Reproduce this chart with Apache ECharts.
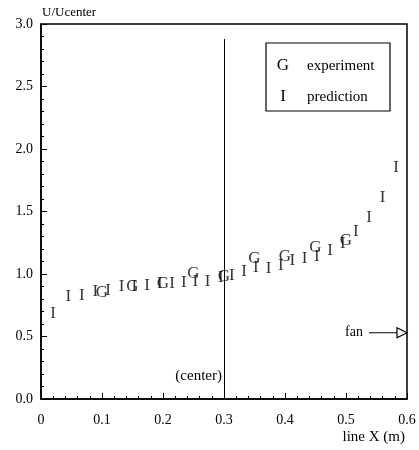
<!DOCTYPE html>
<html><head><meta charset="utf-8">
<script src="https://cdn.jsdelivr.net/npm/echarts@6/dist/echarts.min.js"></script>
<style>html,body{margin:0;padding:0;background:#fff}#c{width:419px;height:450px}</style>
</head><body><div id="c"></div>
<script>
const predX = [0.020,0.045,0.067,0.089,0.110,0.132,0.153,0.174,0.195,0.215,0.234,0.253,0.273,0.295,0.313,0.333,0.352,0.373,0.393,0.412,0.432,0.452,0.474,0.495,0.516,0.538,0.560,0.582];
const predY = [0.68,0.82,0.83,0.86,0.87,0.90,0.90,0.91,0.92,0.92,0.93,0.94,0.94,0.97,0.99,1.02,1.05,1.04,1.07,1.11,1.12,1.14,1.19,1.24,1.34,1.45,1.61,1.85];
const expX = [0.10,0.15,0.20,0.25,0.30,0.35,0.40,0.45,0.50];
const expY = [0.85,0.90,0.92,1.00,0.98,1.12,1.14,1.21,1.27];
const xTicks = ['0','0.1','0.2','0.3','0.4','0.5','0.6'];
const yTicks = ['0.0','0.5','1.0','1.5','2.0','2.5','3.0'];
const centerLine = {x:0.3, y0:0, y1:2.88};
const fanY = 0.53;

const SERIF = '"Liberation Serif","DejaVu Serif",serif';
const chart = echarts.init(document.getElementById('c'), null, {renderer:'canvas'});
function glyphSeries(name, xs, ys, ch, z){
  return {
    type:'scatter', name, z,
    data: xs.map((x,i)=>[x, ys[i]]),
    symbol:'circle', symbolSize:1,
    itemStyle:{color:'rgba(0,0,0,0)'},
    label:{show:true, position:'inside', formatter:ch, color:'#000',
      fontFamily:SERIF, fontSize:17, verticalAlign:'middle', align:'center'},
    emphasis:{disabled:true}, silent:true
  };
}
const axisLine = {show:true, lineStyle:{color:'#000', width:1.6}};
chart.setOption({
  animation:false,
  grid:{left:41, right:12, top:24, bottom:51, show:true, borderColor:'#000', borderWidth:1.5, backgroundColor:'transparent'},
  xAxis:{type:'value', min:0, max:0.6, interval:0.1,
    axisLine, splitLine:{show:false},
    axisTick:{show:true, inside:true, length:6, lineStyle:{color:'#000'}},
    minorTick:{show:true, splitNumber:5, length:3, lineStyle:{color:'#000'}},
    axisLabel:{margin:14, color:'#000', fontFamily:SERIF, fontSize:14,
      formatter:(v)=>xTicks[Math.round(v*10)]}
  },
  yAxis:{type:'value', min:0, max:3, interval:0.5,
    axisLine, splitLine:{show:false},
    axisTick:{show:true, inside:true, length:6, lineStyle:{color:'#000'}},
    minorTick:{show:true, splitNumber:5, length:3, lineStyle:{color:'#000'}},
    axisLabel:{margin:8, color:'#000', fontFamily:SERIF, fontSize:14,
      formatter:(v)=>yTicks[Math.round(v*2)]},
    name:'U/Ucenter', nameLocation:'end', nameGap:5,
    nameTextStyle:{align:'left', color:'#000', fontFamily:SERIF, fontSize:13, padding:[0,0,0,1]}
  },
  series:[
    glyphSeries('prediction', predX, predY, 'I', 3),
    glyphSeries('experiment', expX, expY, 'G', 4),
    {type:'line', data:[], silent:true,
     markLine:{symbol:['none','none'], silent:true, label:{show:false},
       lineStyle:{color:'#000', type:'solid', width:1},
       data:[[{coord:[centerLine.x, centerLine.y0]},{coord:[centerLine.x, centerLine.y1]}]]}}
  ]
});
const p = (x,y)=>chart.convertToPixel({gridIndex:0},[x,y]);
const c0 = p(centerLine.x, 0.18);
const fanR = p(0.6, fanY);
const txt = (x,y,text,size,align)=>({type:'text', x, y, style:{text, fill:'#000', font:`${size}px ${SERIF}`, align:align||'left', verticalAlign:'middle'}});
chart.setOption({graphic:[
  txt(c0[0]-2, c0[1], '(center)', 15, 'right'),
  txt(fanR[0]-44, fanR[1], 'fan', 14, 'right'),
  {type:'line', shape:{x1:fanR[0]-38, y1:fanR[1], x2:fanR[0]-10, y2:fanR[1]}, style:{stroke:'#000', lineWidth:1}},
  {type:'polygon', shape:{points:[[fanR[0]-10,fanR[1]-5],[fanR[0],fanR[1]],[fanR[0]-10,fanR[1]+5]]}, style:{stroke:'#000', fill:'#fff', lineWidth:1.2}},
  {type:'rect', shape:{x:266, y:43, width:124, height:68}, style:{stroke:'#000', fill:'#fff', lineWidth:1.2}},
  txt(283, 66, 'G', 17, 'center'),
  txt(307, 66, 'experiment', 15),
  txt(283, 97, 'I', 17, 'center'),
  txt(307, 97, 'prediction', 15),
  txt(405, 437, 'line X (m)', 15, 'right')
]});
</script></body></html>
